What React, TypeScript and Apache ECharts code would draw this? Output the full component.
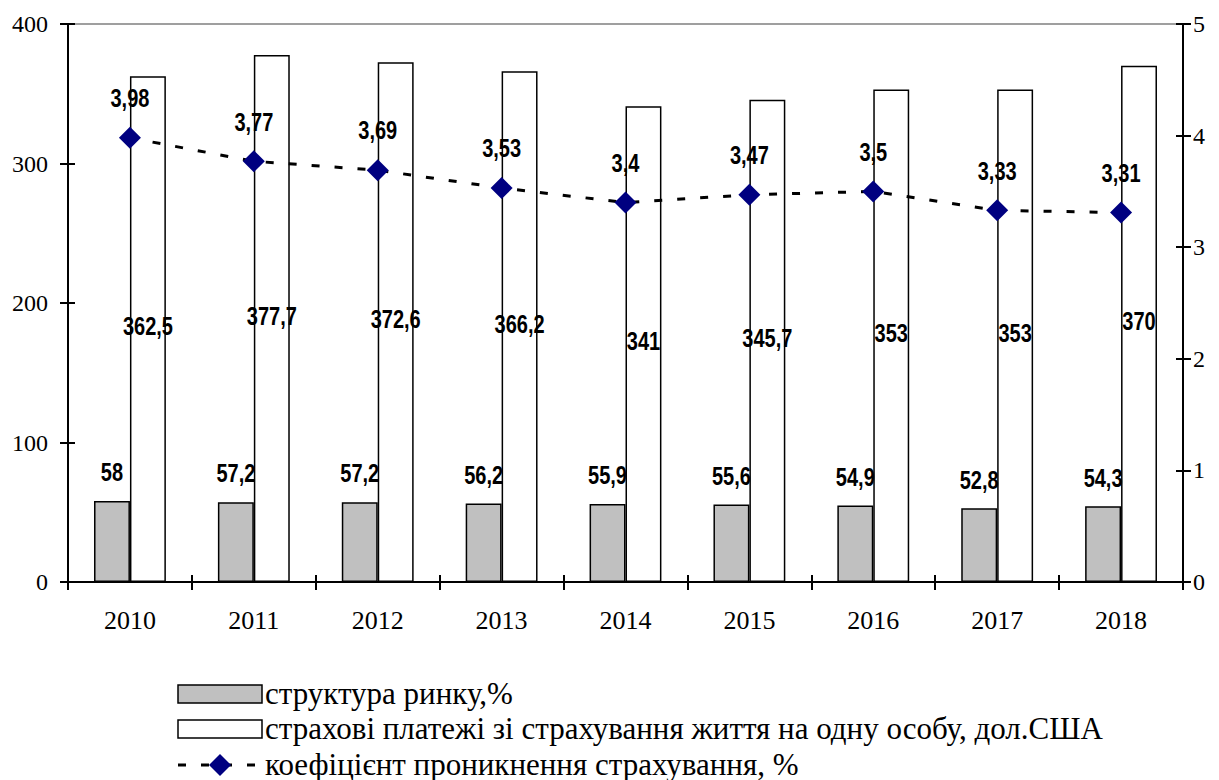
import React, { useEffect, useRef } from "react";
import * as echarts from "echarts";

const years = ["2010", "2011", "2012", "2013", "2014", "2015", "2016", "2017", "2018"];
const marketShare = [58, 57.2, 57.2, 56.2, 55.9, 55.6, 54.9, 52.8, 54.3];
const paymentsPerCapita = [362.5, 377.7, 372.6, 366.2, 341, 345.7, 353, 353, 370];
const penetration = [3.98, 3.77, 3.69, 3.53, 3.4, 3.47, 3.5, 3.33, 3.31];

const seriesNames = [
  "структура ринку,%",
  "страхові платежі зі страхування життя на одну особу, дол.США",
  "коефіцієнт проникнення страхування, %",
];

const serif = "Liberation Serif";
const labelFont = "Liberation Sans";

const GRAY = "#c0c0c0";
const NAVY = "#000080";

const comma = (v: number) => String(v).replace(".", ",");

// Share of the category band taken by one bar (two bars side by side, no gap).
const BAR_SHARE = 0.29;

type Placement = "grayTop" | "whiteMiddle" | "pointTop";

// Bold, horizontally condensed value labels drawn through the axes' own scales.
function labelSeries(values: number[], placement: Placement, yAxisIndex = 0) {
  return {
    type: "custom",
    yAxisIndex,
    silent: true,
    z: 10,
    data: values.map((v, i) => [i, v]),
    renderItem: (_params: any, api: any) => {
      const idx = api.value(0);
      const v = api.value(1);
      const top = api.coord([idx, v]);
      const base = api.coord([idx, 0]);
      const band = api.size([1, 0])[0];
      const barW = band * BAR_SHARE;
      let x = top[0];
      let y = top[1];
      if (placement === "grayTop") {
        x = top[0] - barW / 2;
        y = top[1] - 28;
      } else if (placement === "whiteMiddle") {
        x = top[0] + barW / 2;
        y = (top[1] + base[1]) / 2 - 2;
      } else {
        y = top[1] - 39;
      }
      return {
        type: "text",
        x,
        y,
        scaleX: 0.8,
        style: {
          text: comma(v),
          fontFamily: labelFont,
          fontWeight: "bold",
          fontSize: 25,
          fill: "#000",
          align: "center",
          verticalAlign: "middle",
        },
      };
    },
  };
}

// Legend block below the plot: swatch on the left, caption to its right.
const LEGEND_X = 178;
const LEGEND_SWATCH_W = 84;
const LEGEND_ROWS = [694, 729, 765];

function legendGraphics() {
  const text = (row: number, caption: string) => ({
    type: "text",
    x: LEGEND_X + LEGEND_SWATCH_W + 3,
    y: LEGEND_ROWS[row] - 1,
    style: {
      text: caption,
      fontFamily: serif,
      fontSize: 31,
      fill: "#000",
      verticalAlign: "middle",
    },
  });
  const swatch = (row: number, fill: string) => ({
    type: "rect",
    shape: { x: LEGEND_X, y: LEGEND_ROWS[row] - 9, width: LEGEND_SWATCH_W, height: 18 },
    style: { fill, stroke: "#000", lineWidth: 1.5 },
  });
  const cy = LEGEND_ROWS[2];
  const cx = LEGEND_X + LEGEND_SWATCH_W / 2;
  return [
    swatch(0, GRAY),
    text(0, seriesNames[0]),
    swatch(1, "#fff"),
    text(1, seriesNames[1]),
    {
      type: "line",
      shape: { x1: LEGEND_X, y1: cy, x2: LEGEND_X + LEGEND_SWATCH_W, y2: cy },
      style: { stroke: "#000", lineWidth: 3, lineDash: [8, 15] },
    },
    {
      type: "polygon",
      shape: { points: [[cx, cy - 11], [cx + 11, cy], [cx, cy + 11], [cx - 11, cy]] },
      style: { fill: NAVY },
    },
    text(2, seriesNames[2]),
  ];
}

export default function App() {
  const ref = useRef<HTMLDivElement>(null);

  useEffect(() => {
    if (!ref.current) return;
    const chart = echarts.init(ref.current, undefined, { renderer: "svg" });

    const leftAxisBase = {
      type: "value" as const,
      min: 0,
      max: 400,
      interval: 100,
      position: "left" as const,
      splitLine: { show: false },
    };
    const rightAxisBase = {
      type: "value" as const,
      min: 0,
      max: 5,
      interval: 1,
      position: "right" as const,
      splitLine: { show: false },
    };
    const tickStyle = { color: "#000", width: 2 };

    chart.setOption({
      animation: false,
      backgroundColor: "#fff",
      textStyle: { fontFamily: serif },
      grid: {
        left: 68,
        right: 36,
        top: 24,
        bottom: 198,
        show: true,
        borderColor: "#808080",
        borderWidth: 1.5,
        backgroundColor: "transparent",
      },
      graphic: legendGraphics(),
      xAxis: [
        {
          type: "category",
          data: years,
          boundaryGap: true,
          axisLine: { lineStyle: { color: "#000", width: 2 } },
          axisTick: { show: true, length: 8, lineStyle: tickStyle },
          axisLabel: { fontFamily: serif, fontSize: 26, color: "#000", margin: 25 },
        },
        {
          type: "category",
          data: years,
          position: "bottom",
          boundaryGap: true,
          axisLine: { show: false },
          axisTick: { show: true, inside: true, length: 7, lineStyle: tickStyle },
          axisLabel: { show: false },
        },
      ],
      yAxis: [
        {
          ...leftAxisBase,
          axisLine: { show: true, lineStyle: { color: "#000", width: 2 } },
          axisTick: { show: true, length: 8, lineStyle: tickStyle },
          axisLabel: { fontFamily: serif, fontSize: 24, color: "#000", margin: 20 },
        },
        {
          ...rightAxisBase,
          axisLine: { show: true, lineStyle: { color: "#000", width: 2 } },
          axisTick: { show: true, length: 8, lineStyle: tickStyle },
          axisLabel: { fontFamily: serif, fontSize: 24, color: "#000", margin: 10 },
        },
        {
          ...leftAxisBase,
          axisLine: { show: false },
          axisTick: { show: true, inside: true, length: 7, lineStyle: tickStyle },
          axisLabel: { show: false },
        },
        {
          ...rightAxisBase,
          axisLine: { show: false },
          axisTick: { show: true, inside: true, length: 7, lineStyle: tickStyle },
          axisLabel: { show: false },
        },
      ],
      series: [
        {
          name: seriesNames[0],
          type: "bar",
          data: marketShare,
          barGap: "0%",
          barCategoryGap: "42%",
          itemStyle: { color: GRAY, borderColor: "#000", borderWidth: 1.5 },
        },
        {
          name: seriesNames[1],
          type: "bar",
          data: paymentsPerCapita,
          itemStyle: { color: "#fff", borderColor: "#000", borderWidth: 1.5 },
        },
        {
          name: seriesNames[2],
          type: "line",
          yAxisIndex: 1,
          data: penetration,
          symbol: "diamond",
          symbolSize: 22,
          itemStyle: { color: NAVY },
          lineStyle: { color: "#000", width: 3, type: [8, 15] },
          z: 5,
        },
        labelSeries(marketShare, "grayTop"),
        labelSeries(paymentsPerCapita, "whiteMiddle"),
        labelSeries(penetration, "pointTop", 1),
      ],
    });

    return () => chart.dispose();
  }, []);

  return (
    <div
      ref={ref}
      style={{ position: "fixed", left: 0, top: 0, width: 1219, height: 780, background: "#fff" }}
    />
  );
}
